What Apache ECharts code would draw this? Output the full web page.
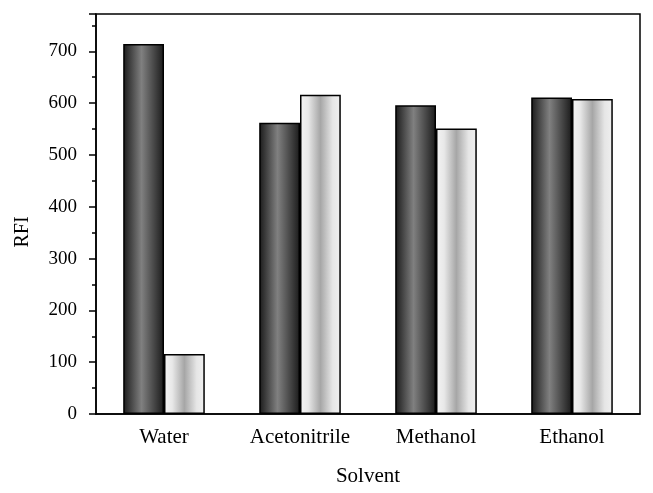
<!DOCTYPE html>
<html>
<head>
<meta charset="utf-8">
<script src="https://cdn.jsdelivr.net/npm/echarts@6/dist/echarts.min.js"></script>
<style>html,body{margin:0;padding:0;background:#fff;}#c{width:653px;height:493px;}</style>
</head>
<body>
<div id="c"></div>
<script>
var categories = ['Water', 'Acetonitrile', 'Methanol', 'Ethanol'];
var seriesA = [714, 562, 596, 611];
var seriesB = [116, 616, 551, 608];
var yTicks = [0, 100, 200, 300, 400, 500, 600, 700];

var font = 'Liberation Serif';
var darkGrad = {type:'linear', x:0, y:0, x2:1, y2:0, colorStops:[
  {offset:0, color:'#1a1a1a'}, {offset:0.45, color:'#808080'}, {offset:1, color:'#1a1a1a'}]};
var lightGrad = {type:'linear', x:0, y:0, x2:1, y2:0, colorStops:[
  {offset:0, color:'#f4f4f4'}, {offset:0.2, color:'#e8e8e8'}, {offset:0.5, color:'#a6a6a6'},
  {offset:0.8, color:'#e6e6e6'}, {offset:1, color:'#f0f0f0'}]};

var chart = echarts.init(document.getElementById('c'));
chart.setOption({
  animation: false,
  backgroundColor: '#fff',
  grid: {left: 96, right: 13, top: 14, bottom: 79, show: true, borderColor: '#000', borderWidth: 1.5},
  xAxis: [{
    type: 'category', data: categories,
    axisLine: {lineStyle: {color: '#000', width: 1.5}},
    axisTick: {alignWithLabel: true, length: 7, lineStyle: {color: '#000', width: 1.5}},
    axisLabel: {color: '#000', fontFamily: font, fontSize: 21, margin: 13},
    name: 'Solvent', nameLocation: 'middle', nameGap: 52,
    nameTextStyle: {color: '#000', fontFamily: font, fontSize: 21}
  }, {
    type: 'category', data: categories, position: 'bottom',
    axisLine: {show: false},
    axisTick: {length: 4, lineStyle: {color: '#000', width: 1.5}},
    axisLabel: {show: false}
  }],
  yAxis: {
    type: 'value', min: 0, max: 772, interval: 100,
    axisLine: {show: true, lineStyle: {color: '#000', width: 1.5}},
    axisTick: {show: true, length: 7, lineStyle: {color: '#000', width: 1.5}},
    minorTick: {show: true, splitNumber: 2, length: 4, lineStyle: {color: '#000', width: 1.5}},
    splitLine: {show: false},
    axisLabel: {color: '#000', fontFamily: font, fontSize: 19, margin: 19, showMaxLabel: false,
      formatter: function (v) { return yTicks.indexOf(v) >= 0 ? String(v) : ''; }},
    name: 'RFI', nameLocation: 'middle', nameGap: 63,
    nameTextStyle: {color: '#000', fontFamily: font, fontSize: 20, padding: [0, 36, 0, 0]}
  },
  series: [{
    type: 'bar', data: seriesA, barGap: '0%', barCategoryGap: '40%',
    itemStyle: {color: darkGrad, borderColor: '#000', borderWidth: 1.5}
  }, {
    type: 'bar', data: seriesB, barGap: '0%', barCategoryGap: '40%',
    itemStyle: {color: lightGrad, borderColor: '#000', borderWidth: 1.5}
  }]
});
</script>
</body>
</html>
